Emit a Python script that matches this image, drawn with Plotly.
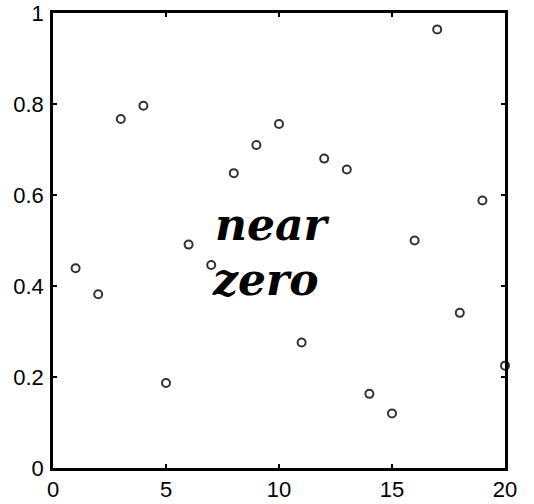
import plotly.graph_objects as go

x_vals = list(range(1, 21))
y_vals = [0.439, 0.382, 0.767, 0.796, 0.187, 0.491, 0.446, 0.648, 0.710, 0.756,
          0.276, 0.680, 0.656, 0.163, 0.120, 0.500, 0.964, 0.341, 0.588, 0.225]
x_ticks = [0, 5, 10, 15, 20]
y_ticks = [0, 0.2, 0.4, 0.6, 0.8, 1]
y_tick_text = ["0", "0.2", "0.4", "0.6", "0.8", "1"]
note_lines = ["near", "zero"]

fig = go.Figure()
fig.add_trace(go.Scatter(
    x=x_vals, y=y_vals, mode="markers",
    marker=dict(symbol="circle-open", size=8, color="#333333", line=dict(width=2)),
    cliponaxis=False, showlegend=False,
))

fig.add_annotation(x=9.7, y=0.535, text=note_lines[0], showarrow=False,
                   font=dict(family="DejaVu Serif", size=44, color="black",
                             style="italic", weight="bold"))
fig.add_annotation(x=9.4, y=0.415, text=note_lines[1], showarrow=False,
                   font=dict(family="DejaVu Serif", size=44, color="black",
                             style="italic", weight="bold"))

axis_common = dict(
    showgrid=False, zeroline=False, showline=True, linecolor="black", linewidth=2.5,
    mirror="ticks", ticks="inside", ticklen=4, tickwidth=1.5, tickcolor="black",
    tickfont=dict(family="Liberation Sans", size=22, color="black"),
    automargin=False, ticklabeloverflow="allow",
)

fig.update_xaxes(range=[0, 20], tickvals=x_ticks, ticktext=[str(t) for t in x_ticks],
                 ticklabelstandoff=0, **axis_common)
fig.update_yaxes(range=[0, 1], tickvals=y_ticks, ticktext=y_tick_text,
                 ticklabelstandoff=2, **axis_common)

fig.update_layout(
    width=534, height=504,
    margin=dict(l=53, r=29, t=13, b=36, autoexpand=False),
    plot_bgcolor="white", paper_bgcolor="white",
)

fig.write_html("out.html", config={"displayModeBar": False},
               post_script="document.body.style.margin='0px';document.body.style.padding='0px';")
